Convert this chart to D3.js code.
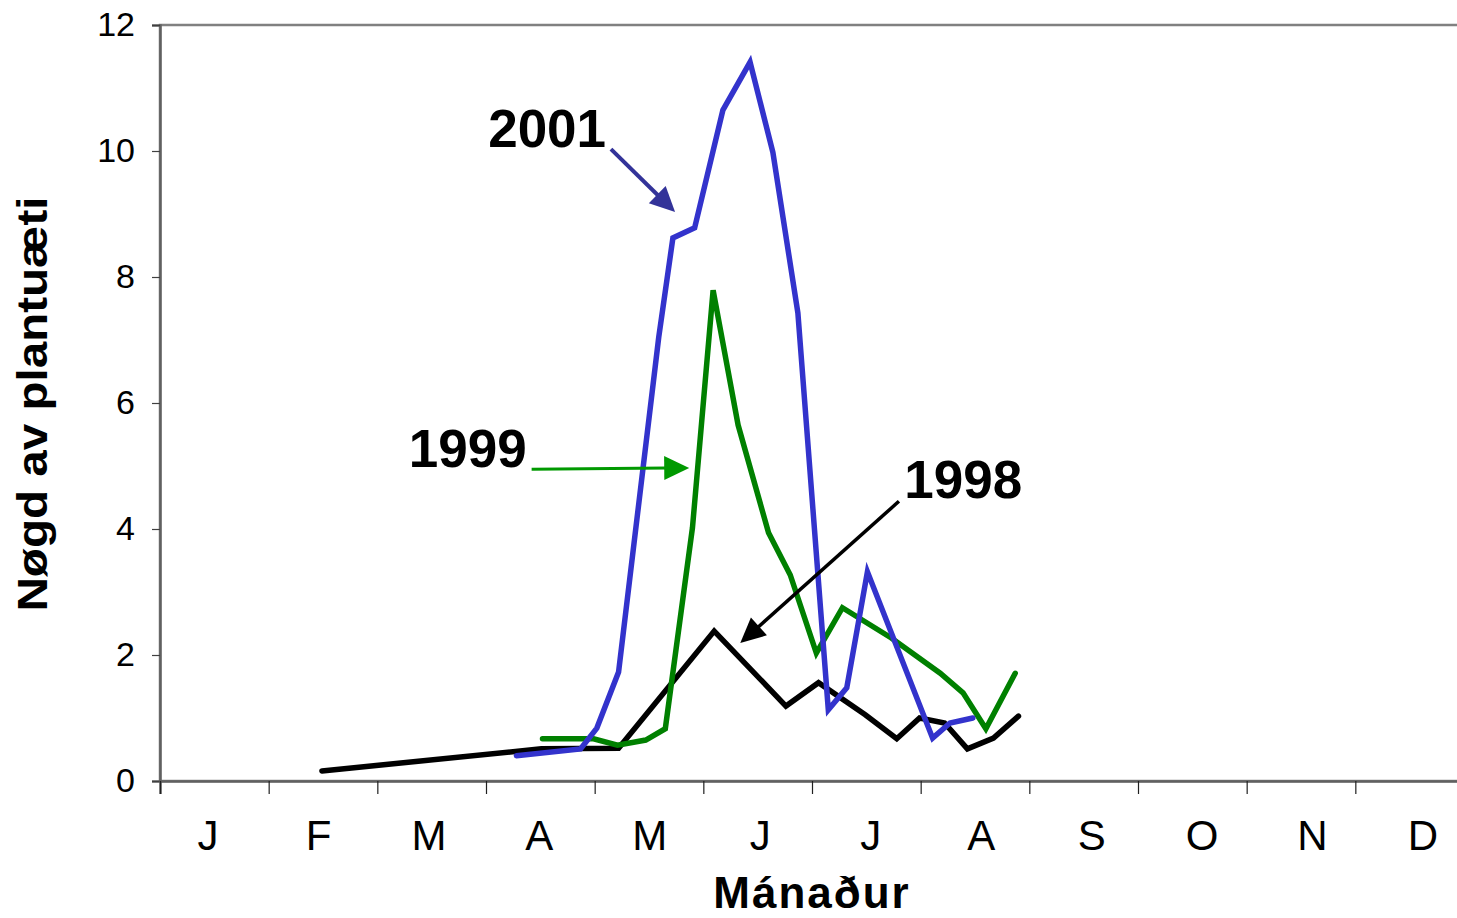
<!DOCTYPE html>
<html>
<head>
<meta charset="utf-8">
<script src="https://cdn.jsdelivr.net/npm/d3@7"></script>
<style>
  body { margin: 0; background: #fff; overflow: hidden; }
  text { font-family: Arial, "Liberation Sans", sans-serif; }
</style>
</head>
<body>
<div id="chart"></div>
<script>
// month labels and y ticks
var months = ["J", "F", "M", "A", "M", "J", "J", "A", "S", "O", "N", "D"];
var yTicks = [0, 2, 4, 6, 8, 10, 12];

// sampling time (months from 1 Jan) and amount, per year
var t1998 = [1.49, 3.51, 4.22, 5.10, 5.76, 6.06, 6.49, 6.78, 6.99, 7.22, 7.43, 7.67, 7.90];
var v1998 = [0.16, 0.51, 0.52, 2.38, 1.19, 1.56, 1.05, 0.67, 1.00, 0.92, 0.51, 0.68, 1.03];

var t1999 = [3.52, 3.99, 4.21, 4.47, 4.65, 4.90, 5.09, 5.32, 5.60, 5.80, 6.04, 6.28, 6.73, 7.18, 7.39, 7.60, 7.87];
var v1999 = [0.67, 0.67, 0.57, 0.65, 0.83, 4.02, 7.79, 5.65, 3.94, 3.27, 2.03, 2.75, 2.27, 1.71, 1.40, 0.83, 1.71];

var t2001 = [3.28, 3.87, 4.02, 4.22, 4.59, 4.72, 4.92, 5.18, 5.43, 5.64, 5.87, 6.15, 6.32, 6.51, 7.11, 7.27, 7.48];
var v2001 = [0.40, 0.51, 0.84, 1.73, 7.05, 8.62, 8.78, 10.65, 11.41, 9.98, 7.43, 1.13, 1.48, 3.32, 0.68, 0.92, 1.00];

// annotation labels: text position and arrow from -> to, in data units
var labels = [
  {name: "2001", tx: 3.02, ty: 10.06, x1: 4.15, y1: 10.03, x2: 4.74, y2: 9.03, color: "#333399", w: 4},
  {name: "1999", tx: 2.29, ty: 4.98, x1: 3.42, y1: 4.95, x2: 4.87, y2: 4.97, color: "#009900", w: 3},
  {name: "1998", tx: 6.85, ty: 4.49, x1: 6.80, y1: 4.44, x2: 5.34, y2: 2.19, color: "#000000", w: 3.5}
];

function createLinechart(){
  // the plot runs a little past the right edge of the picture
  var margin = {top: 25, right: 0, bottom: 137, left: 160},
      width = 1304,
      height = 918 - margin.top - margin.bottom;

  var x = d3.scaleLinear().domain([0, 12]).range([0, width]);
  var y = d3.scaleLinear().domain([0, 12]).range([height, 0]);
  // month letters sit a little to the right of each band's middle
  var xl = d3.scalePoint().domain(d3.range(12)).range([48, 1263]);

  var svg = d3.select("#chart").append("svg")
      .attr("width", 1457)
      .attr("height", 918)
    .append("g")
      .attr("transform", "translate(" + margin.left + "," + margin.top + ")");

  // plot frame
  svg.append("rect")
      .attr("x", 0).attr("y", 0)
      .attr("width", width).attr("height", height)
      .attr("fill", "none")
      .attr("stroke", "#808080")
      .attr("stroke-width", 2.5);

  // y axis
  var yAxis = svg.append("g")
      .call(d3.axisLeft(y).tickValues(yTicks).tickSize(8).tickPadding(17));
  yAxis.select(".domain").attr("stroke", "#606060").attr("stroke-width", 2.5);
  yAxis.selectAll(".tick line").attr("stroke", "#404040").attr("stroke-width", 1.2);
  yAxis.selectAll("text")
      .attr("font-size", "34px")
      .attr("font-family", "Arial, 'Liberation Sans', sans-serif")
      .attr("fill", "#000");

  // x axis, ticks at month boundaries
  var xAxis = svg.append("g")
      .attr("transform", "translate(0," + height + ")")
      .call(d3.axisBottom(x).tickValues(d3.range(0, 13)).tickSize(13).tickFormat(""));
  xAxis.select(".domain").attr("stroke", "#606060").attr("stroke-width", 2.5);
  xAxis.selectAll(".tick line").attr("stroke", "#202020").attr("stroke-width", 1.2);

  svg.append("g").selectAll("text")
      .data(months)
    .enter().append("text")
      .attr("x", function(d, i) { return xl(i); })
      .attr("y", height + 69)
      .style("text-anchor", "middle")
      .attr("font-size", "42px")
      .text(function(d) { return d; });

  // lines
  var line = d3.line()
      .x(function(d) { return x(d[0]); })
      .y(function(d) { return y(d[1]); });

  var series = [
    {t: t1998, v: v1998, color: "#000000"},
    {t: t1999, v: v1999, color: "#008000"},
    {t: t2001, v: v2001, color: "#3333CC"}
  ];
  series.forEach(function(s) {
    svg.append("path")
        .datum(d3.zip(s.t, s.v))
        .attr("fill", "none")
        .attr("stroke", s.color)
        .attr("stroke-width", 5.5)
        .attr("stroke-linejoin", "miter")
        .attr("stroke-linecap", "round")
        .attr("d", line);
  });

  // annotation arrows and year labels
  labels.forEach(function(d) {
    var ax = x(d.x1), ay = y(d.y1), bx = x(d.x2), by = y(d.y2);
    var len = Math.sqrt((bx - ax) * (bx - ax) + (by - ay) * (by - ay));
    var ux = (bx - ax) / len, uy = (by - ay) / len;
    var hl = 25, hw = 12;
    var cx = bx - ux * hl, cy = by - uy * hl;
    svg.append("line")
        .attr("x1", ax).attr("y1", ay)
        .attr("x2", cx + ux * 2).attr("y2", cy + uy * 2)
        .attr("stroke", d.color)
        .attr("stroke-width", d.w);
    svg.append("path")
        .attr("d", "M" + bx + "," + by +
                   "L" + (cx - uy * hw) + "," + (cy + ux * hw) +
                   "L" + (cx + uy * hw) + "," + (cy - ux * hw) + "Z")
        .attr("fill", d.color);
    svg.append("text")
        .attr("x", x(d.tx))
        .attr("y", y(d.ty))
        .attr("font-size", "53px")
        .attr("font-weight", "bold")
        .text(d.name);
  });

  // axis titles
  svg.append("text")
      .attr("transform", "rotate(-90)")
      .attr("x", 0 - (404 - margin.top))
      .attr("y", 47 - margin.left)
      .style("text-anchor", "middle")
      .attr("font-size", "42px")
      .attr("font-weight", "bold")
      .attr("textLength", 415)
      .attr("lengthAdjust", "spacingAndGlyphs")
      .text("Nøgd av plantuæti");

  svg.append("text")
      .attr("x", 812 - margin.left)
      .attr("y", 908 - margin.top)
      .style("text-anchor", "middle")
      .attr("font-size", "44px")
      .attr("font-weight", "bold")
      .attr("letter-spacing", "2px")
      .text("Mánaður");
}

createLinechart();
</script>
</body>
</html>
